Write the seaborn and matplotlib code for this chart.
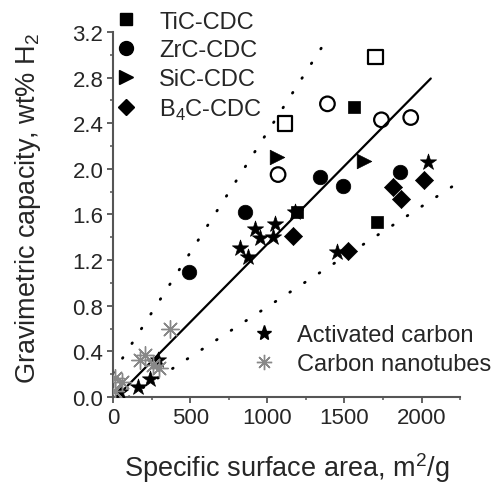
import numpy as np
import pandas as pd
import matplotlib
matplotlib.use("Agg")
import matplotlib.pyplot as plt
import seaborn as sns
from matplotlib.lines import Line2D
from matplotlib.ticker import MultipleLocator

# values
tic_x = [1190, 1560, 1710]
tic_y = [1.62, 2.54, 1.53]
tic_open_x = [1115, 1700]
tic_open_y = [2.40, 2.98]
zrc_x = [494, 855, 1344, 1494, 1860]
zrc_y = [1.10, 1.62, 1.93, 1.85, 1.97]
zrc_open_x = [1070, 1390, 1740, 1930]
zrc_open_y = [1.95, 2.57, 2.43, 2.45]
sic_x = [1060, 1625]
sic_y = [2.10, 2.07]
b4c_x = [1165, 1525, 1815, 1865, 2015]
b4c_y = [1.41, 1.28, 1.84, 1.74, 1.90]
ac_x = [45, 162, 240, 292, 825, 877, 922, 955, 1039, 1052, 1182, 1455, 2040]
ac_y = [0.04, 0.09, 0.16, 0.32, 1.31, 1.23, 1.47, 1.39, 1.40, 1.52, 1.62, 1.27, 2.06]
cnt_x = [15, 10, 60, 175, 210, 260, 300, 370]
cnt_y = [0.05, 0.17, 0.13, 0.32, 0.37, 0.28, 0.25, 0.60]

# trend lines (start/end x, slope, intercept)
fit_x = [20, 2060]
fit_slope, fit_icpt = 1.37e-3, -0.03
upper_x = [0, 1400]
upper_slope, upper_icpt = 2.11e-3, 0.21
lower_x = [100, 2260]
lower_slope, lower_icpt = 0.88e-3, -0.09

sns.set_theme(style="ticks")
plt.rcParams["font.family"] = ["Liberation Sans", "DejaVu Sans"]
plt.rcParams["mathtext.fontset"] = "custom"
plt.rcParams["mathtext.rm"] = "Liberation Sans"
fs_tick, fs_label, fs_leg = 16, 19.5, 17

fig = plt.figure(figsize=(5.03, 4.85), dpi=100)
ax = fig.add_axes([0.2247, 0.1794, 0.69, 0.7526])

def line(xs, slope, icpt, **kw):
    xs = np.array(xs, dtype=float)
    sns.lineplot(x=xs, y=slope * xs + icpt, ax=ax, color="black", **kw)

line(fit_x, fit_slope, fit_icpt, linewidth=1.6)
dots = dict(linewidth=2.0, linestyle=(0, (0.3, 6)), dash_capstyle="round")
line(upper_x, upper_slope, upper_icpt, **dots)
line(lower_x, lower_slope, lower_icpt, **dots)

filled = dict(color="black", edgecolor="black", linewidth=0.5, ax=ax, zorder=3)
hollow = dict(facecolor="none", edgecolor="black", linewidth=1.6, ax=ax, zorder=3)
sns.scatterplot(x=tic_x, y=tic_y, marker="s", s=80, **filled)
sns.scatterplot(x=tic_open_x, y=tic_open_y, marker="s", s=110, **hollow)
sns.scatterplot(x=zrc_x, y=zrc_y, marker="o", s=110, **filled)
sns.scatterplot(x=zrc_open_x, y=zrc_open_y, marker="o", s=110, **hollow)
sns.scatterplot(x=sic_x, y=sic_y, marker=">", s=110, **filled)
sns.scatterplot(x=b4c_x, y=b4c_y, marker="D", s=85, **filled)
sns.scatterplot(x=ac_x, y=ac_y, marker="*", s=150, **filled)
sns.scatterplot(x=cnt_x, y=cnt_y, marker=(8, 2, 0), s=160, color="#888888",
                linewidth=1.0, ax=ax, zorder=3)

ax.set_xlim(0, 2250)
ax.set_ylim(0, 3.2)
ax.xaxis.set_major_locator(MultipleLocator(500))
ax.xaxis.set_minor_locator(MultipleLocator(250))
ax.yaxis.set_major_locator(MultipleLocator(0.4))
ax.yaxis.set_minor_locator(MultipleLocator(0.2))
ax.yaxis.set_major_formatter(matplotlib.ticker.FormatStrFormatter("%.1f"))
for s in ["top", "right"]:
    ax.spines[s].set_visible(False)
for s in ["left", "bottom"]:
    ax.spines[s].set_color("#555555")
    ax.spines[s].set_linewidth(1.5)
ax.tick_params(which="major", length=4, width=1.3, color="#555555",
               labelsize=fs_tick, pad=3)
ax.tick_params(which="minor", length=2.5, width=1.1, color="#555555")
ax.set_xlabel("Specific surface area, m$^2$/g", fontsize=fs_label)
ax.set_ylabel("Gravimetric capacity, wt% H$_2$", fontsize=fs_label)
ax.xaxis.set_label_coords(0.5, -0.145)
ax.yaxis.set_label_coords(-0.203, 0.52)

mk = dict(color="black", linestyle="none", markeredgecolor="black")
h1 = [Line2D([], [], marker="s", markersize=8, **mk),
      Line2D([], [], marker="o", markersize=10, **mk),
      Line2D([], [], marker=">", markersize=10, **mk),
      Line2D([], [], marker="D", markersize=8, **mk)]
leg1 = ax.legend(h1, ["TiC-CDC", "ZrC-CDC", "SiC-CDC", "B$_4$C-CDC"],
                 loc="upper left", bbox_to_anchor=(-0.03, 1.084), frameon=False,
                 fontsize=fs_leg, handletextpad=0.8, labelspacing=0.28,
                 handlelength=1.2, borderaxespad=0)
ax.add_artist(leg1)
h2 = [Line2D([], [], marker="*", markersize=11, **mk),
      Line2D([], [], marker=(8, 2, 0), markersize=11, color="#888888",
             linestyle="none")]
ax.legend(h2, ["Activated carbon", "Carbon nanotubes"], loc="upper left",
          bbox_to_anchor=(0.368, 0.225), frameon=False, fontsize=fs_leg,
          handletextpad=0.8, labelspacing=0.28, handlelength=1.2,
          borderaxespad=0)

fig.savefig("out.png", dpi=100)
